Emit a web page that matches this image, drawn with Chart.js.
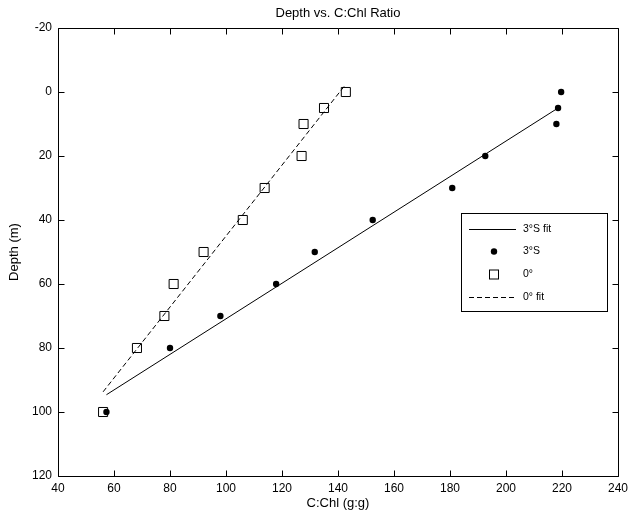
<!DOCTYPE html>
<html>
<head>
<meta charset="utf-8">
<script src="https://cdn.jsdelivr.net/npm/chart.js@4"></script>
<style>
  html, body { margin: 0; padding: 0; background: #fff; }
  #wrap { width: 633px; height: 515px; }
</style>
</head>
<body>
<div id="wrap"><canvas id="depthChart" width="633" height="515"></canvas></div>
<script>
// depths (m) for both stations
const depths = [0, 5, 10, 20, 30, 40, 50, 60, 70, 80, 100];
// C:Chl ratio at 3°S
const chl3S = [219.7, 218.6, 218, 192.6, 180.8, 152.4, 131.7, 117.9, 98, 80, 57.3];
// C:Chl ratio at 0°
const chl0 = [142.8, 135, 127.7, 127, 113.8, 106, 92, 81.3, 78, 68.2, 56.1];
// fit line end points
const fit3SX = [57.3, 218.6];
const fit3SY = [94.6, 5];
const fit0X = [56.1, 142.6];
const fit0Y = [93.7, -2.2];
const xTicks = [40, 60, 80, 100, 120, 140, 160, 180, 200, 220, 240];
const yTicks = [-20, 0, 20, 40, 60, 80, 100, 120];

const FONT = '"Liberation Sans", Arial, Helvetica, sans-serif';

function toPoints(xs, ys) {
  return xs.map((x, i) => ({ x: x, y: ys[i] }));
}

// matlab style box with inward ticks on all four sides
const boxPlugin = {
  id: 'boxTicks',
  afterDatasetsDraw(chart) {
    const { ctx, chartArea: a, scales } = chart;
    const l = Math.round(a.left) + 0.5, r = Math.round(a.right) + 0.5;
    const t = Math.round(a.top) + 0.5, b = Math.round(a.bottom) + 0.5;
    ctx.save();
    ctx.strokeStyle = '#000';
    ctx.lineWidth = 1;
    ctx.beginPath();
    ctx.rect(l, t, r - l, b - t);
    xTicks.forEach(v => {
      const px = Math.round(scales.x.getPixelForValue(v)) + 0.5;
      ctx.moveTo(px, b); ctx.lineTo(px, b - 6);
      ctx.moveTo(px, t); ctx.lineTo(px, t + 6);
    });
    yTicks.forEach(v => {
      const py = Math.round(scales.y.getPixelForValue(v)) + 0.5;
      ctx.moveTo(l, py); ctx.lineTo(l + 6, py);
      ctx.moveTo(r, py); ctx.lineTo(r - 6, py);
    });
    ctx.stroke();
    ctx.restore();
  },
  afterDraw(chart) {
    // legend box inside the axes
    const { ctx } = chart;
    const bx = 461.5, by = 213.5, bw = 146, bh = 98;
    ctx.save();
    ctx.fillStyle = '#fff';
    ctx.fillRect(bx, by, bw, bh);
    ctx.strokeStyle = '#000';
    ctx.lineWidth = 1;
    ctx.strokeRect(bx, by, bw, bh);
    ctx.font = '10.5px ' + FONT;
    ctx.textBaseline = 'middle';
    ctx.fillStyle = '#000';
    const order = [2, 0, 1, 3];
    order.forEach((di, row) => {
      const ds = chart.data.datasets[di];
      const y = Math.round(by + 15 + row * 22.8) + 0.5;
      if (ds.showLine) {
        ctx.save();
        ctx.setLineDash(ds.borderDash || []);
        ctx.beginPath();
        ctx.moveTo(469, y);
        ctx.lineTo(516, y);
        ctx.stroke();
        ctx.restore();
      } else if (ds.pointStyle === 'rect') {
        ctx.strokeRect(489.5, y - 4.5, 9, 9);
      } else {
        ctx.beginPath();
        ctx.arc(494, y, 3.2, 0, Math.PI * 2);
        ctx.fill();
      }
      ctx.fillText(ds.label, 523, y);
    });
    ctx.restore();
  }
};

const chart = new Chart(document.getElementById('depthChart'), {
  type: 'scatter',
  data: {
    datasets: [
      {
        label: '3°S',
        data: toPoints(chl3S, depths),
        pointStyle: 'circle',
        pointRadius: 3.2,
        pointBackgroundColor: '#000',
        pointBorderColor: '#000',
        pointBorderWidth: 0,
        showLine: false
      },
      {
        label: '0°',
        data: toPoints(chl0, depths),
        pointStyle: 'rect',
        pointRadius: 6.4,
        pointBackgroundColor: 'rgba(0,0,0,0)',
        pointBorderColor: '#000',
        pointBorderWidth: 1,
        showLine: false
      },
      {
        label: '3°S fit',
        data: toPoints(fit3SX, fit3SY),
        showLine: true,
        borderColor: '#000',
        borderWidth: 1,
        pointRadius: 0
      },
      {
        label: '0° fit',
        data: toPoints(fit0X, fit0Y),
        showLine: true,
        borderColor: '#000',
        borderWidth: 1,
        borderDash: [5, 3],
        pointRadius: 0
      }
    ]
  },
  options: {
    responsive: false,
    animation: false,
    layout: { padding: { left: 0, right: 14, top: 0, bottom: 0 } },
    plugins: {
      legend: { display: false },
      tooltip: { enabled: false },
      title: {
        display: true,
        text: 'Depth vs. C:Chl Ratio',
        fullSize: false,
        color: '#000',
        font: { family: FONT, size: 13, weight: 'normal', lineHeight: 1.2 },
        padding: { top: 6, bottom: 6.4 }
      }
    },
    scales: {
      x: {
        type: 'linear',
        min: 40,
        max: 240,
        grid: { display: false, drawTicks: false },
        border: { display: false },
        afterFit: s => { s.height = 39; },
        afterBuildTicks: s => { s.ticks = xTicks.map(v => ({ value: v })); },
        ticks: {
          color: '#000',
          padding: 5,
          maxRotation: 0,
          font: { family: FONT, size: 12 }
        },
        title: {
          display: true,
          text: 'C:Chl (g:g)',
          color: '#000',
          font: { family: FONT, size: 13, lineHeight: 1.2 },
          padding: { top: 0, bottom: 3.5 }
        }
      },
      y: {
        type: 'linear',
        reverse: true,
        min: -20,
        max: 120,
        grid: { display: false, drawTicks: false },
        border: { display: false },
        afterFit: s => { s.width = 58; },
        afterBuildTicks: s => { s.ticks = yTicks.map(v => ({ value: v })); },
        ticks: {
          color: '#000',
          padding: 6,
          font: { family: FONT, size: 12 }
        },
        title: {
          display: true,
          text: 'Depth (m)',
          color: '#000',
          font: { family: FONT, size: 13, lineHeight: 1.2 },
          padding: { top: 6.2, bottom: 0 }
        }
      }
    }
  },
  plugins: [boxPlugin]
});
</script>
</body>
</html>
